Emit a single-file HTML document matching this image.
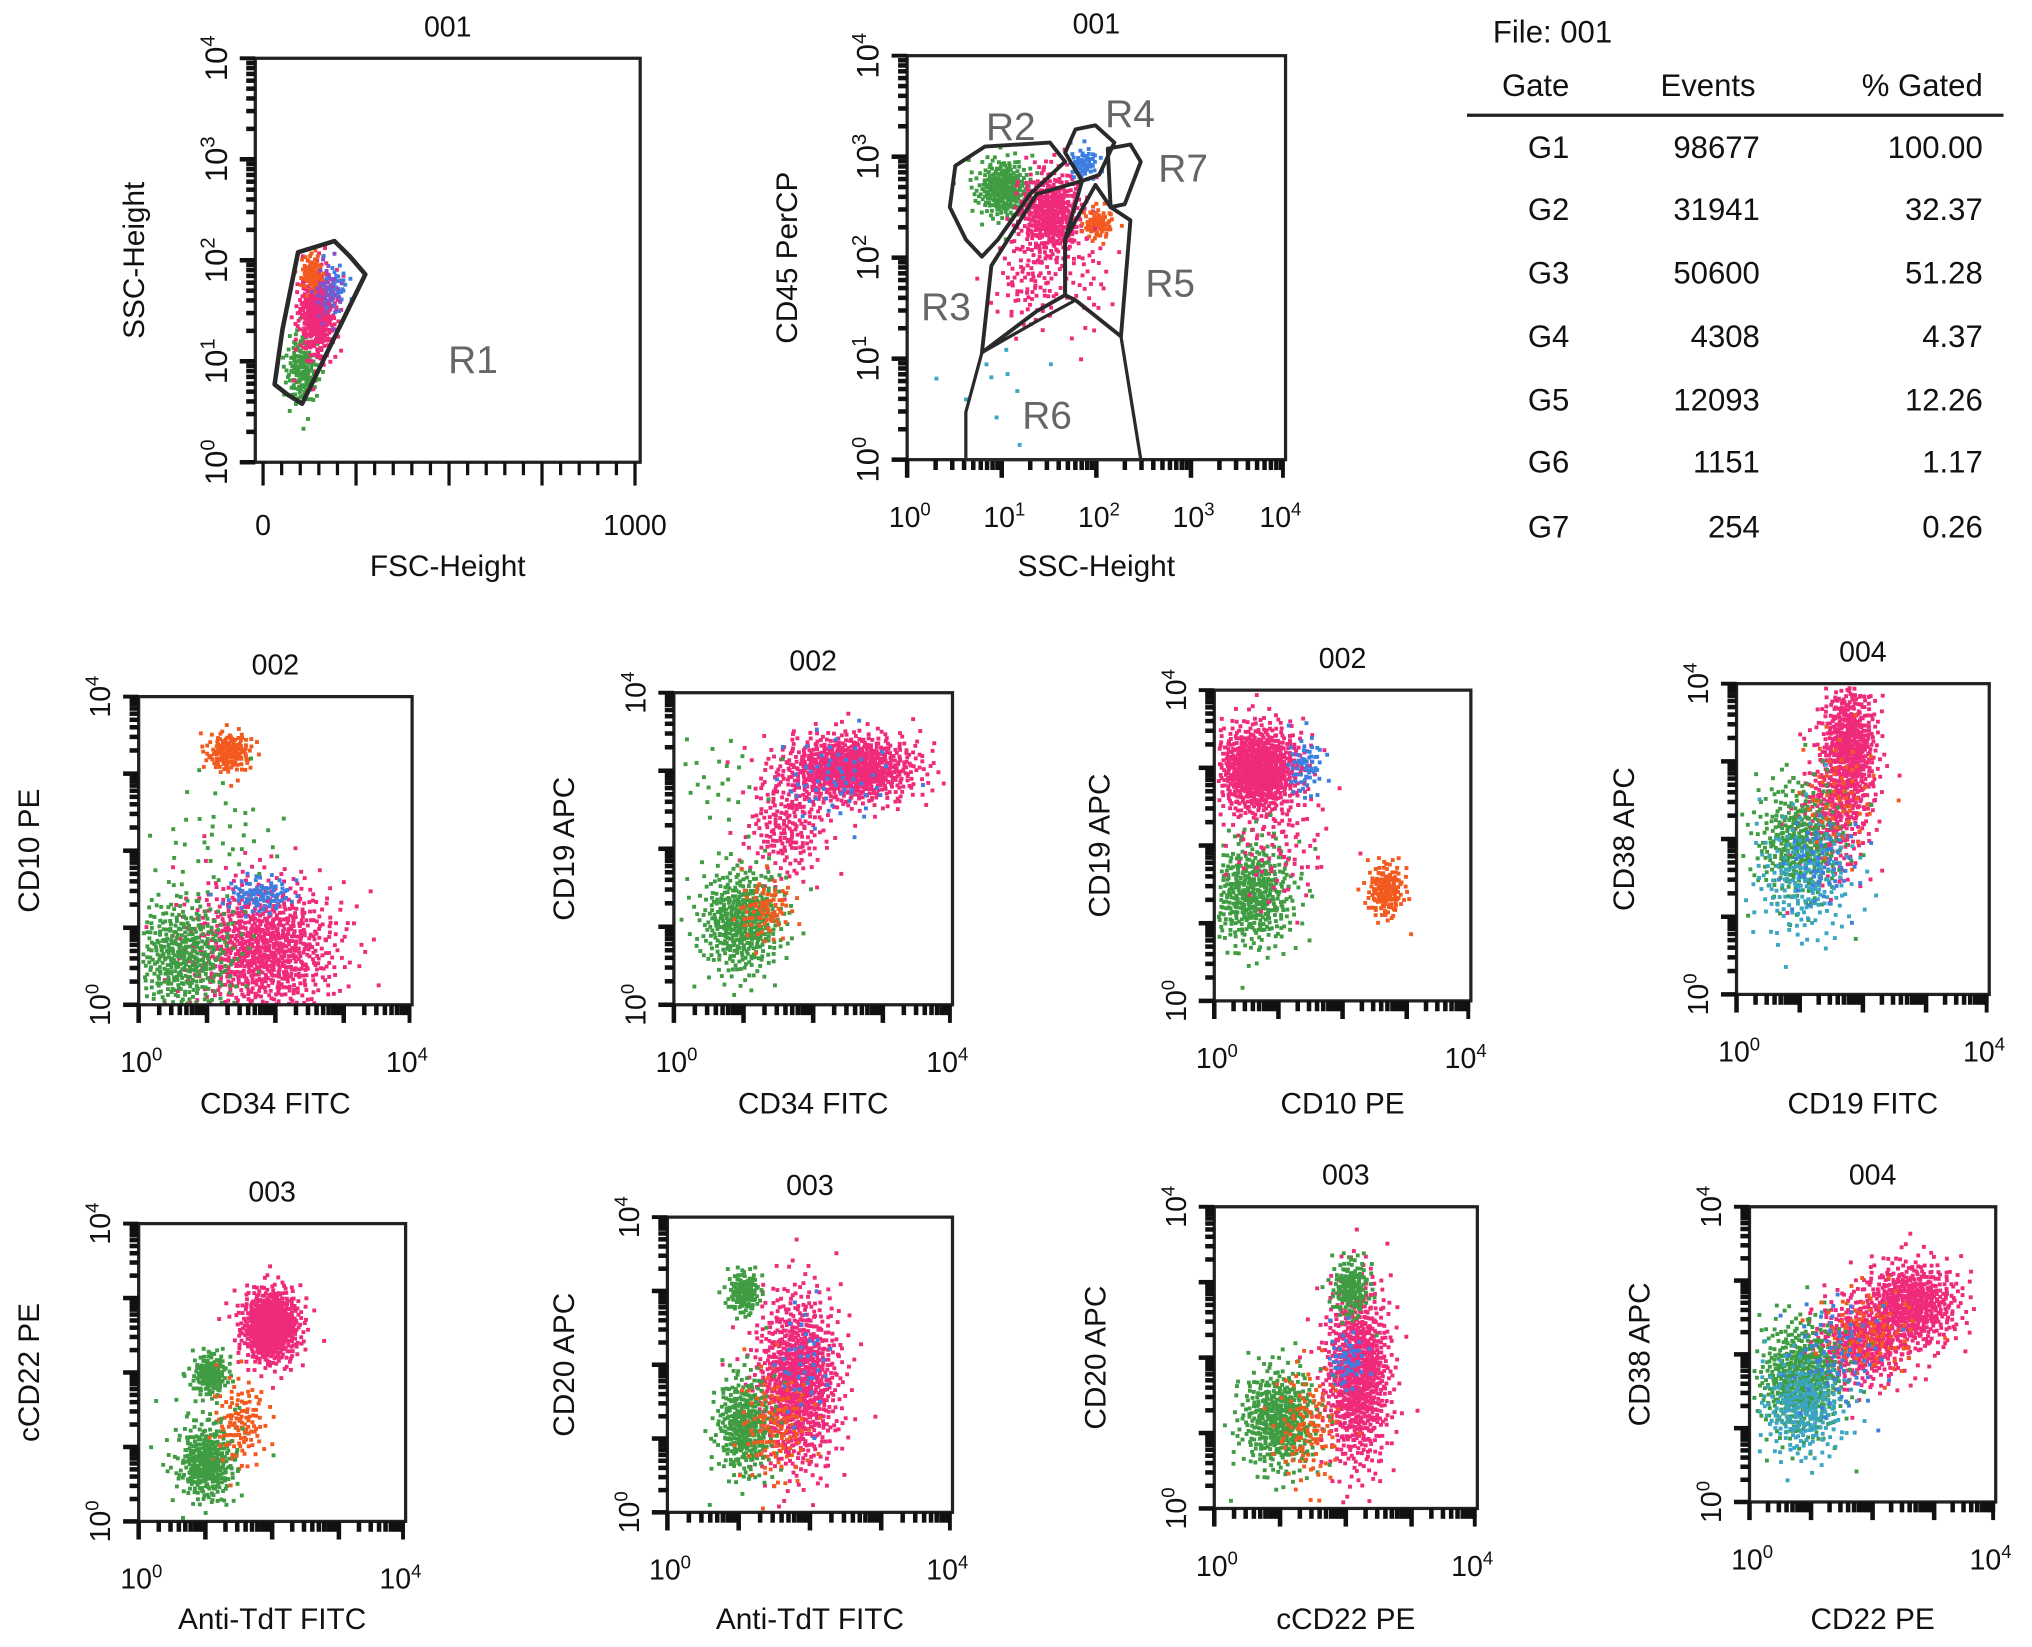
<!DOCTYPE html>
<html><head><meta charset="utf-8">
<style>
html,body{margin:0;padding:0;background:#fff;}
svg{display:block;font-family:"Liberation Sans",Arial,sans-serif;}
</style></head>
<body>
<svg id="fig" width="2032" height="1647" viewBox="0 0 1568 1272" preserveAspectRatio="none" xmlns="http://www.w3.org/2000/svg">
<g id="table" font-size="24" fill="#111">
  <text x="1152" y="33">File: 001</text>
  <text x="1185" y="74" text-anchor="middle">Gate</text>
  <text x="1318" y="74" text-anchor="middle">Events</text>
  <text x="1530" y="74" text-anchor="end">% Gated</text>
  <line x1="1132" y1="89" x2="1546" y2="89" stroke="#222" stroke-width="2.5"/>
</g>
</svg>
<script>
// ---- table data ----
const gateNames = ["G1","G2","G3","G4","G5","G6","G7"];
const gateEvents = ["98677","31941","50600","4308","12093","1151","254"];
const gatePct = ["100.00","32.37","51.28","4.37","12.26","1.17","0.26"];

// ---- scatter data: clusters [centerX, centerY, spreadX, spreadY, count, colorKey] (decades, or FSC units for plot1 x) ----
const p1Clusters = [[100,0.95,22,0.18,160,"g"],[140,1.5,25,0.22,380,"p"],[125,1.9,15,0.1,70,"o"],[190,1.75,18,0.12,40,"b"],[170,1.7,20,0.15,40,"v"]];
const p2Clusters = [[1.0,2.7,0.15,0.15,260,"g"],[1.5,2.45,0.17,0.22,420,"p"],[1.3,1.8,0.2,0.25,100,"p"],[1.85,2.95,0.08,0.08,60,"b"],[2.0,2.35,0.08,0.08,80,"o"],[1.9,1.8,0.12,0.3,30,"p"],[1.0,0.8,0.3,0.3,10,"c"]];
const p3Clusters = [[1.3,3.3,0.17,0.13,150,"o"],[1.8,0.75,0.55,0.45,900,"p"],[1.75,1.45,0.25,0.12,90,"b"],[0.6,0.65,0.4,0.4,450,"g"],[1.2,2.2,0.5,0.4,40,"g"]];
const p4Clusters = [[2.5,3.05,0.5,0.22,800,"p"],[1.6,2.3,0.3,0.35,200,"p"],[0.95,1.1,0.3,0.35,450,"g"],[1.3,1.25,0.2,0.2,80,"o"],[2.3,2.9,0.4,0.3,60,"b"],[0.6,2.9,0.35,0.3,25,"g"]];
const p5Clusters = [[0.65,3.0,0.35,0.3,750,"p"],[0.55,1.4,0.35,0.35,450,"g"],[2.65,1.45,0.15,0.18,150,"o"],[1.4,3.05,0.15,0.2,60,"b"],[1.0,2.0,0.4,0.4,80,"p"]];
const p6Clusters = [[1.75,3.2,0.22,0.45,550,"p"],[1.5,2.3,0.3,0.4,250,"p"],[0.95,2.0,0.35,0.4,350,"g"],[1.05,1.5,0.4,0.4,200,"c"],[1.6,2.6,0.3,0.4,60,"o"],[1.3,1.7,0.3,0.3,60,"b"]];
const p7Clusters = [[1.95,2.65,0.22,0.25,650,"p"],[1.0,0.8,0.2,0.25,300,"g"],[1.05,2.0,0.14,0.15,150,"g"],[1.5,1.35,0.2,0.3,120,"o"],[0.9,1.0,0.35,0.45,60,"g"]];
const p8Clusters = [[1.8,1.8,0.3,0.6,900,"p"],[1.05,1.2,0.2,0.35,350,"g"],[1.05,3.0,0.12,0.15,130,"g"],[1.5,1.2,0.25,0.4,120,"o"],[1.9,2.0,0.2,0.4,40,"b"]];
const p9Clusters = [[2.15,1.8,0.25,0.6,850,"p"],[0.95,1.2,0.3,0.35,450,"g"],[2.05,2.95,0.15,0.2,150,"g"],[2.0,2.0,0.15,0.2,50,"b"],[1.4,1.1,0.25,0.4,120,"o"]];
const p10Clusters = [[2.6,2.7,0.4,0.3,550,"p"],[1.8,2.2,0.4,0.3,400,"p"],[0.8,1.7,0.35,0.4,500,"g"],[0.85,1.3,0.35,0.35,250,"c"],[1.9,2.3,0.4,0.3,100,"o"],[1.4,2.0,0.4,0.4,80,"b"]];

// ---- gates (plot 1: FSC units / decades; plot 2: decades) ----
const gateR1 = [[94,2.08],[192,2.19],[233,2.04],[275,1.86],[105,0.58],[66,0.67],[31,0.77],[52,1.31]];
const gateR2 = [[0.51,2.91],[0.82,3.10],[1.51,3.14],[1.67,2.95],[1.30,2.63],[0.96,2.18],[0.79,2.01],[0.62,2.18],[0.45,2.5]];
const gateR4 = [[1.67,3.04],[1.78,3.27],[1.99,3.31],[2.19,3.14],[2.03,2.82],[1.85,2.76]];
const gateR7 = [[2.12,3.08],[2.36,3.12],[2.47,2.95],[2.30,2.53],[2.15,2.5]];
const gateR3 = [[0.79,1.06],[0.89,1.92],[1.37,2.63],[1.85,2.76],[1.67,2.18],[1.67,1.63],[1.37,1.47]];
const gateR5 = [[1.67,1.63],[1.67,2.18],[1.99,2.72],[2.15,2.5],[2.36,2.37],[2.26,1.22],[1.78,1.58]];
const gateR6 = [[0.62,0],[0.62,0.47],[0.79,1.06],[1.37,1.37],[1.78,1.58],[2.26,1.22],[2.47,0]];

const colors = {p:"#ef2a7a",g:"#3f9c42",o:"#f25a1f",b:"#3d7fe0",c:"#3aa6c4",v:"#8a4fc8"};
const NS = "http://www.w3.org/2000/svg";
const svg = document.getElementById('fig');
const table = document.getElementById('table');

function mk(tag, attrs, parent){const e=document.createElementNS(NS,tag);for(const k in attrs)e.setAttribute(k,attrs[k]);(parent||svg).appendChild(e);return e;}

// table rows
const rowY=[122,170,219,268,317,365,415];
gateNames.forEach((g,i)=>{
  let t=mk('text',{x:1195,y:rowY[i],'text-anchor':'middle'},table);t.textContent=g;
  
  
  t=mk('text',{x:1358,y:rowY[i],'text-anchor':'end'},table);t.textContent=gateEvents[i];
  
  
  t=mk('text',{x:1530,y:rowY[i],'text-anchor':'end'},table);t.textContent=gatePct[i];
  
  
});

// layout of plots
const plots=[
 {id:"fsc-ssc",x0:197,x1:494,y0:45,y1:357,title:"001",xl:"FSC-Height",yl:"SSC-Height",lin:true,allY:true,cl:p1Clusters,ylx:103,xlY:445,yfs:24},
 {id:"ssc-cd45",x0:700,x1:992,y0:43,y1:355,title:"001",xl:"SSC-Height",yl:"CD45 PerCP",allY:true,allX:true,cl:p2Clusters,ylx:607,xlY:445,yfs:24},
 {id:"cd34-cd10",x0:107,x1:318,y0:538,y1:776,title:"002",xl:"CD34 FITC",yl:"CD10 PE",cl:p3Clusters,ylx:22,xlY:860},
 {id:"cd34-cd19",x0:520,x1:735,y0:535,y1:776,title:"002",xl:"CD34 FITC",yl:"CD19 APC",cl:p4Clusters,ylx:435,xlY:860},
 {id:"cd10-cd19",x0:937,x1:1135,y0:533,y1:773,title:"002",xl:"CD10 PE",yl:"CD19 APC",cl:p5Clusters,ylx:848,xlY:860},
 {id:"cd19-cd38",x0:1340,x1:1535,y0:528,y1:768,title:"004",xl:"CD19 FITC",yl:"CD38 APC",cl:p6Clusters,ylx:1253,xlY:860},
 {id:"tdt-cd22",x0:107,x1:313,y0:945,y1:1175,title:"003",xl:"Anti-TdT FITC",yl:"cCD22 PE",cl:p7Clusters,ylx:22,xlY:1258},
 {id:"tdt-cd20",x0:515,x1:735,y0:940,y1:1168,title:"003",xl:"Anti-TdT FITC",yl:"CD20 APC",cl:p8Clusters,ylx:435,xlY:1258},
 {id:"cd22-cd20",x0:937,x1:1140,y0:932,y1:1165,title:"003",xl:"cCD22 PE",yl:"CD20 APC",cl:p9Clusters,ylx:845,xlY:1258},
 {id:"cd22-cd38",x0:1350,x1:1540,y0:932,y1:1160,title:"004",xl:"CD22 PE",yl:"CD38 APC",cl:p10Clusters,ylx:1265,xlY:1258}
];

function halton(i,b){let f=1,r=0;while(i>0){f/=b;r+=f*(i%b);i=Math.floor(i/b);}return r;}

function pow10(parent,x,y,exp,fs,anchor,rot){
  const t=mk('text',{x:x,y:y,'font-size':fs,'text-anchor':anchor||'middle',fill:'#111'},parent);
  if(rot) t.setAttribute('transform',`rotate(-90 ${x} ${y})`);
  t.textContent='10';
  const s=mk('tspan',{dy:-fs*0.4,'font-size':fs*0.65},t);s.textContent=exp;
  return t;
}

plots.forEach(P=>{
  const g=mk('g',{});
  
  
  const W=P.x1-P.x0,H=P.y1-P.y0;
  const sx=P.lin? (v=>203+(P.x0-197)+v/1000*287) : (v=>P.x0+v/4*W);
  const sy=v=>P.y1-v/4*H;
  // dots
  const dots=mk('g',{},g);
  
  
  P.cl.forEach((c,ci)=>{
    for(let i=0;i<c[4];i++){
      const k=i+1+ci*977;
      const u=Math.max(halton(k,2),1e-4),v=halton(k,3);
      const r=Math.sqrt(-2*Math.log(u));
      let dx=c[0]+c[2]*r*Math.cos(2*Math.PI*v), dy=c[1]+c[3]*r*Math.sin(2*Math.PI*v);
      const px=sx(dx),py=sy(dy);
      if(px<P.x0+2||px>P.x1-3||py<P.y0+2||py>P.y1-2) continue;
      mk('rect',{x:px.toFixed(1),y:py.toFixed(1),width:3,height:3,fill:colors[c[5]]},dots);
    }
  });
  // frame
  const fr=mk('rect',{x:P.x0,y:P.y0,width:W,height:H,fill:'none',stroke:'#222','stroke-width':2.5},g);
  
  
  // ticks
  const tk=mk('g',{stroke:'#111'},g);
  
  
  for(let d=0;d<4;d++){for(let m=1;m<10;m++){const y=sy(d+Math.log10(m));
    mk('line',{x1:P.x0-(m==1?12:7),x2:P.x0,y1:y,y2:y,'stroke-width':3.5},tk);}}
  mk('line',{x1:P.x0-12,x2:P.x0,y1:P.y0,y2:P.y0,'stroke-width':3},tk);
  if(P.lin){for(let i=0;i<=20;i++){const x=sx(i*50);mk('line',{x1:x,x2:x,y1:P.y1,y2:P.y1+(i%5==0?18:10),'stroke-width':2.5},tk);}}
  else{for(let d=0;d<4;d++){for(let m=1;m<10;m++){const x=sx(d+Math.log10(m));
    mk('line',{x1:x,x2:x,y1:P.y1,y2:P.y1+(m==1?14:8),'stroke-width':3.5},tk);}}
    mk('line',{x1:P.x1-2,x2:P.x1-2,y1:P.y1,y2:P.y1+14,'stroke-width':3},tk);}
  // labels
  const fs=P.yfs||22;
  let t=mk('text',{x:(P.x0+P.x1)/2,y:P.y0-17,'font-size':22,'text-anchor':'middle',fill:'#111'},g);t.textContent=P.title;
  
  
  t=mk('text',{x:(P.x0+P.x1)/2,y:P.xlY,'font-size':23,'text-anchor':'middle',fill:'#111'},g);t.textContent=P.xl;
  
  
  const my=(P.y0+P.y1)/2;
  t=mk('text',{x:P.ylx+8,y:my,'font-size':23,'text-anchor':'middle',fill:'#111',transform:`rotate(-90 ${P.ylx+8} ${my})`},g);t.textContent=P.yl;
  
  
  const yt=P.allY?[0,1,2,3,4]:[0,4];
  yt.forEach(d=>{const e=pow10(g,P.x0-22,sy(d),d,fs,'middle',true);
    
    });
  if(P.lin){
    t=mk('text',{x:203,y:P.y1+56,'font-size':22,'text-anchor':'middle',fill:'#111'},g);t.textContent='0';
    
    
    t=mk('text',{x:490,y:P.y1+56,'font-size':22,'text-anchor':'middle',fill:'#111'},g);t.textContent='1000';
    
    
  } else {
    const xt=P.allX?[0,1,2,3,4]:[0,4];
    xt.forEach(d=>{const e=pow10(g,sx(d)+(d==4?-4:2),P.y1+52,d,22,'middle',false);
      
      });
  }
  P.sx=sx;P.sy=sy;P.g=g;
});

// gates
function gate(P,pts,name,lx,ly,sw){
  const d=pts.map(p=>P.sx(p[0]).toFixed(1)+','+P.sy(p[1]).toFixed(1)).join(' ');
  const e=mk('polygon',{points:d,fill:'none',stroke:'#2a2a2a','stroke-width':sw||3,'stroke-linejoin':'round'},P.g);
  
  
  const t=mk('text',{x:lx,y:ly,'font-size':30,fill:'#666','text-anchor':'middle'},P.g);t.textContent=name;
  
  
}
gate(plots[0],gateR1,"R1",365,288,3.5);
gate(plots[1],gateR2,"R2",780,108);
gate(plots[1],gateR4,"R4",872,98);
gate(plots[1],gateR7,"R7",913,140);
gate(plots[1],gateR3,"R3",730,247);
gate(plots[1],gateR5,"R5",903,229);
gate(plots[1],gateR6,"R6",808,331,2.5);
</script>
</body></html>
